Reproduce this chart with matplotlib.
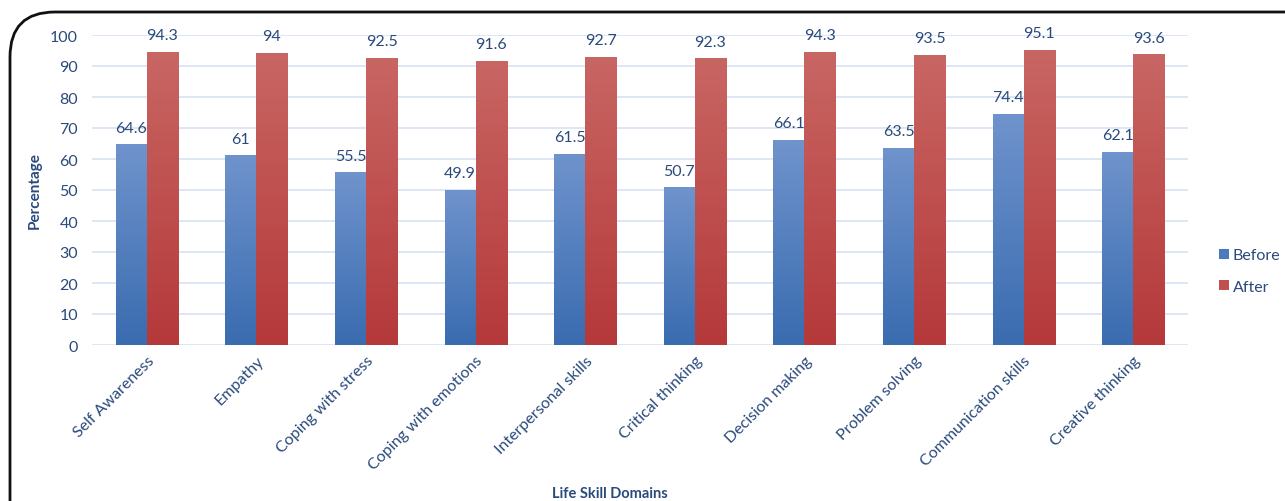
import numpy as np
import matplotlib
matplotlib.use('Agg')
import matplotlib.pyplot as plt
from matplotlib.patches import FancyBboxPatch
from matplotlib.colors import LinearSegmentedColormap

domains = ['Self Awareness', 'Empathy', 'Coping with stress', 'Coping with emotions',
           'Interpersonal skills', 'Critical thinking', 'Decision making',
           'Problem solving', 'Communication skills', 'Creative thinking']
before = [64.6, 61, 55.5, 49.9, 61.5, 50.7, 66.1, 63.5, 74.4, 62.1]
after = [94.3, 94, 92.5, 91.6, 92.7, 92.3, 94.3, 93.5, 95.1, 93.6]
before_labels = ['64.6', '61', '55.5', '49.9', '61.5', '50.7', '66.1', '63.5', '74.4', '62.1']
after_labels = ['94.3', '94', '92.5', '91.6', '92.7', '92.3', '94.3', '93.5', '95.1', '93.6']

plt.rcParams['font.family'] = ['Lato', 'DejaVu Sans']
text_col = '#2a4a7c'

fig = plt.figure(figsize=(12.85, 5.02), dpi=100)
ax = fig.add_axes([92 / 1285, 1 - 346 / 502, 1096 / 1285, 310 / 502])

# rounded frame, cut off at right and bottom
frame = FancyBboxPatch((10 / 1285, -0.2), 1.2, 1.2 - 13 / 502,
                       boxstyle='round,pad=0,rounding_size=0.035',
                       transform=fig.transFigure, fill=False, lw=2, ec='#111111',
                       mutation_aspect=1285 / 502)
fig.patches.append(frame)

x = np.arange(len(domains))
w = 0.283
b1 = ax.bar(x - w / 2, before, w, color='#4f7fc0', label='Before', zorder=2)
b2 = ax.bar(x + w / 2, after, w, color='#c0504d', label='After', zorder=2)

# vertical gradient fill like the office chart style
blue_cm = LinearSegmentedColormap.from_list('b', ['#3a6cb0', '#6f93cc'])
red_cm = LinearSegmentedColormap.from_list('r', ['#b5393a', '#c86663'])
grad = np.linspace(0, 1, 100).reshape(-1, 1)
for bars, cm in [(b1, blue_cm), (b2, red_cm)]:
    for p in bars:
        x0, y0 = p.get_x(), p.get_y()
        ax.imshow(grad, cmap=cm, origin='lower', aspect='auto',
                  extent=[x0, x0 + p.get_width(), y0, y0 + p.get_height()], zorder=3)
        p.set_facecolor('none')
        p.set_edgecolor('#f0d0d0')
        p.set_linewidth(0.6)

for i in range(len(domains)):
    ax.text(x[i] - w / 2, before[i] + 3.3, before_labels[i], ha='center', va='bottom',
            fontsize=11.5, color=text_col)
    ax.text(x[i] + w / 2, after[i] + 3.3, after_labels[i], ha='center', va='bottom',
            fontsize=11.5, color=text_col)

ax.set_xlim(-0.5, len(domains) - 0.5)
ax.set_ylim(0, 100)
ax.set_yticks(range(0, 101, 10))
ax.grid(axis='y', color='#d6e1f3', lw=1.2, zorder=0)
ax.set_axisbelow(True)
for s in ax.spines.values():
    s.set_visible(False)
ax.tick_params(axis='both', length=0, labelsize=11.5, labelcolor=text_col)
ax.tick_params(axis='y', pad=10)
ax.set_xticks(x)
ax.set_xticklabels(domains, rotation=45, ha='right', rotation_mode='anchor')
ax.tick_params(axis='x', pad=6)

fig.text(35 / 1285, 1 - 191 / 502, 'Percentage', rotation=90, ha='center', va='center',
         fontsize=11, fontweight='bold', color=text_col)
fig.text(610 / 1285, 1 - 494 / 502, 'Life Skill Domains', ha='center', va='center',
         fontsize=10.5, fontweight='bold', color=text_col)

fig.legend(handles=[b1, b2], labels=['Before', 'After'], loc='center left',
           bbox_to_anchor=(1205 / 1285, 1 - 272 / 502), frameon=False, fontsize=11.5,
           labelcolor=text_col, handlelength=0.6, handleheight=0.6, handletextpad=0.25,
           labelspacing=1.1)
for h, c in zip(fig.legends[0].legend_handles, ['#4a7bbd', '#c0504d']):
    h.set_facecolor(c)
    h.set_edgecolor('none')

fig.savefig('out.png', dpi=100)
